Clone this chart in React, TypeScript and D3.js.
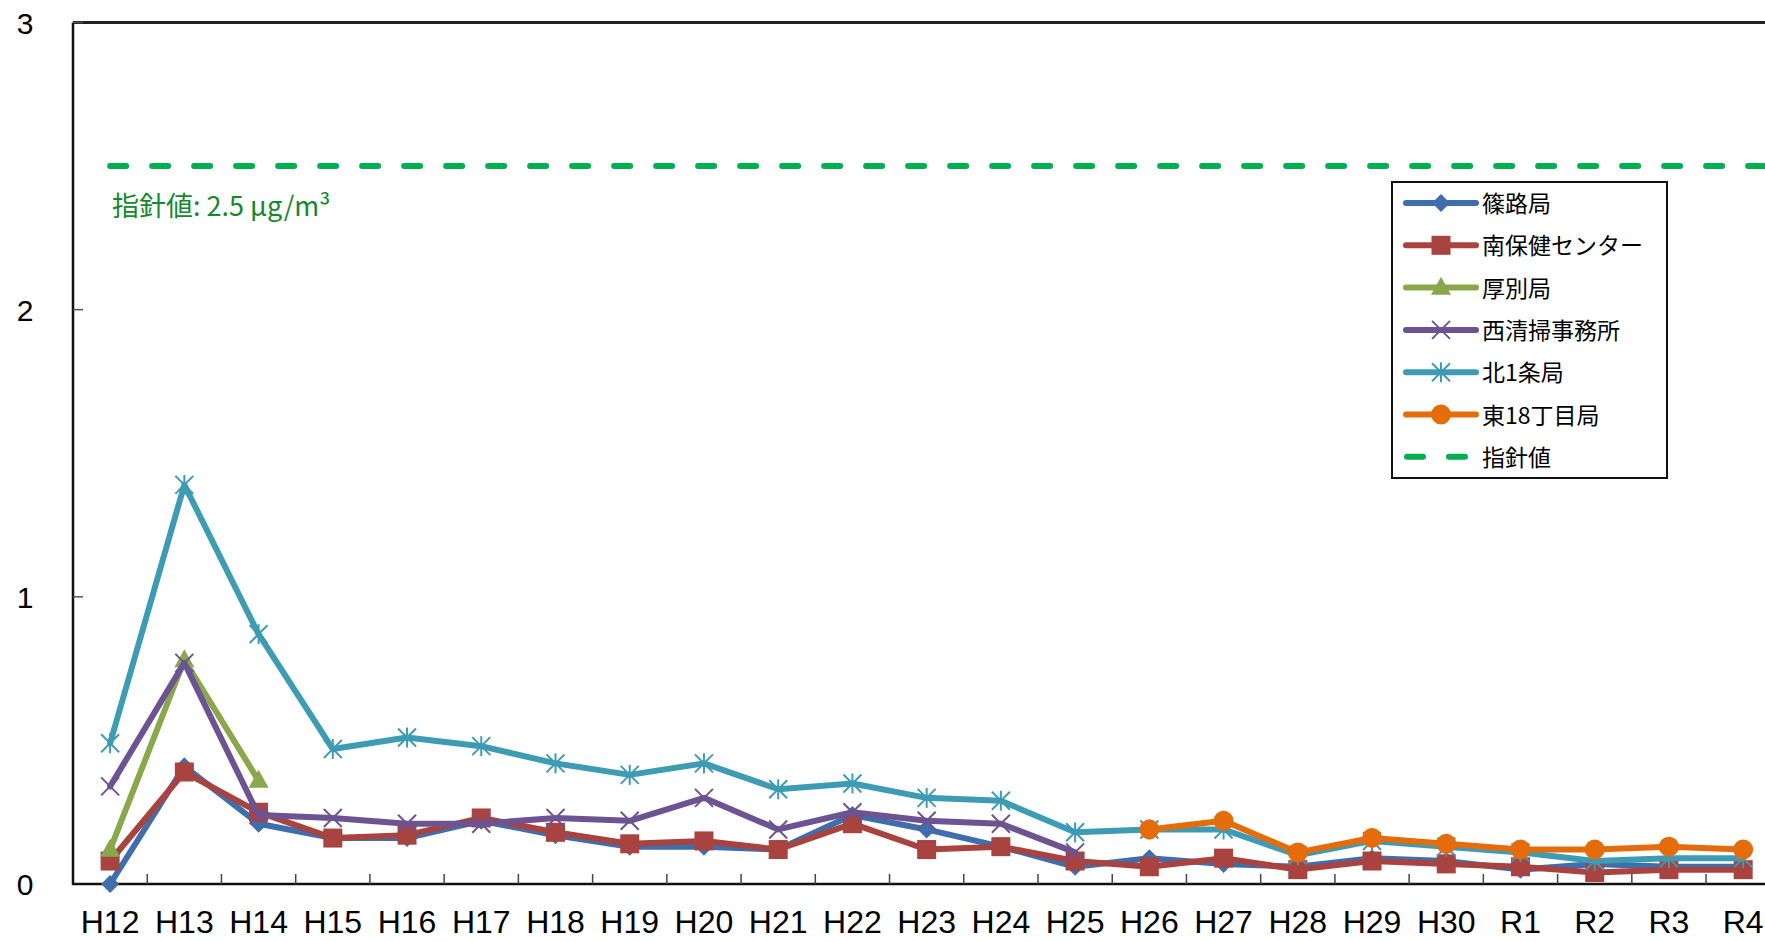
import React from "react";
import * as d3 from "d3";

const categories = ["H12","H13","H14","H15","H16","H17","H18","H19","H20","H21","H22","H23","H24","H25","H26","H27","H28","H29","H30","R1","R2","R3","R4"];

const shinoro = [0.00,0.41,0.21,0.16,0.16,0.22,0.17,0.13,0.13,0.12,0.24,0.19,0.13,0.06,0.09,0.07,0.06,0.09,0.08,0.05,0.07,0.06,0.06];
const minamiHoken = [0.08,0.39,0.25,0.16,0.17,0.23,0.18,0.14,0.15,0.12,0.21,0.12,0.13,0.08,0.06,0.09,0.05,0.08,0.07,0.06,0.04,0.05,0.05];
const atsubetsu = [0.12,0.78,0.36,null,null,null,null,null,null,null,null,null,null,null,null,null,null,null,null,null,null,null,null];
const nishiSeiso = [0.34,0.77,0.24,0.23,0.21,0.21,0.23,0.22,0.30,0.19,0.25,0.22,0.21,0.11,null,null,null,null,null,null,null,null,null];
const kita1jo = [0.49,1.39,0.87,0.47,0.51,0.48,0.42,0.38,0.42,0.33,0.35,0.30,0.29,0.18,0.19,0.19,0.10,0.15,0.13,0.11,0.08,0.09,0.09];
const higashi18 = [null,null,null,null,null,null,null,null,null,null,null,null,null,null,0.19,0.22,0.11,0.16,0.14,0.12,0.12,0.13,0.12];

const guideValue = 2.5;
const yTicks = [0, 1, 2, 3];

const seriesNames = ["篠路局","南保健センター","厚別局","西清掃事務所","北1条局","東18丁目局"];
const seriesValues = [shinoro, minamiHoken, atsubetsu, nishiSeiso, kita1jo, higashi18];
const seriesColors = ["#3F6EAD","#A8433F","#88A84B","#6D5391","#3E9BB4","#E46C0A"];
const seriesMarkers = ["diamond","square","triangle","x","asterisk","circle"];
const guideName = "指針値";
const guideColor = "#00B050";

const FONT = "'Noto Sans CJK JP', 'Noto Sans', sans-serif";
const NUMFONT = "'Liberation Sans', Arial, sans-serif";

function Marker({ type, cx, cy, color }: { type: string; cx: number; cy: number; color: string }) {
  if (type === "diamond") {
    const r = 9;
    return <path d={`M${cx},${cy - r}L${cx + r},${cy}L${cx},${cy + r}L${cx - r},${cy}Z`} fill={color} />;
  }
  if (type === "square") {
    const s = 19;
    return <rect x={cx - s / 2} y={cy - s / 2} width={s} height={s} fill={color} />;
  }
  if (type === "triangle") {
    const w = 20, h = 18;
    return <path d={`M${cx},${cy - h * 0.6}L${cx + w / 2},${cy + h * 0.4}L${cx - w / 2},${cy + h * 0.4}Z`} fill={color} />;
  }
  if (type === "circle") {
    return <circle cx={cx} cy={cy} r={10} fill={color} />;
  }
  if (type === "x") {
    const r = 9;
    return (
      <g stroke={color} strokeWidth={2}>
        <line x1={cx - r} y1={cy - r} x2={cx + r} y2={cy + r} />
        <line x1={cx - r} y1={cy + r} x2={cx + r} y2={cy - r} />
      </g>
    );
  }
  if (type === "asterisk") {
    const r = 9;
    return (
      <g stroke={color} strokeWidth={2}>
        <line x1={cx - r} y1={cy - r} x2={cx + r} y2={cy + r} />
        <line x1={cx - r} y1={cy + r} x2={cx + r} y2={cy - r} />
        <line x1={cx} y1={cy - r - 1} x2={cx} y2={cy + r + 1} />
      </g>
    );
  }
  return null;
}

export default function App() {
  const W = 1765, H = 941;
  const left = 73, top = 22.5, bottom = 884;
  const bandW = 74.23;
  const x = d3.scaleBand<string>().domain(categories).range([left, left + bandW * categories.length]).padding(0);
  const cx = (c: string) => (x(c) as number) + x.bandwidth() / 2;
  const y = d3.scaleLinear().domain([0, 3]).range([bottom, top]);

  const line = d3
    .line<number | null>()
    .defined((d) => d !== null)
    .x((_, i) => cx(categories[i]))
    .y((d) => y(d as number));

  const right = left + bandW * categories.length;
  const xFirst = cx(categories[0]);
  const xLast = cx(categories[categories.length - 1]);

  // legend
  const lgX = 1392, lgY = 182, lgW = 275, lgH = 296;
  const rowY = (i: number) => 203 + i * 42.3;

  return (
    <svg width={W} height={H} style={{ position: "absolute", left: 0, top: 0, background: "#fff" }} fontFamily={FONT}>
      <rect x={0} y={0} width={W} height={H} fill="#fff" />
      {/* plot frame */}
      <line x1={left} y1={top} x2={right} y2={top} stroke="#222" strokeWidth={3} />
      <line x1={right} y1={top} x2={right} y2={bottom} stroke="#222" strokeWidth={2} />
      <line x1={left} y1={top} x2={left} y2={bottom + 1} stroke="#111" strokeWidth={2.5} />
      <line x1={left - 1} y1={bottom} x2={right} y2={bottom} stroke="#111" strokeWidth={2.5} />
      {/* y ticks */}
      {yTicks.map((t) => (
        <g key={"yt" + t}>
          {t > 0 && <line x1={left} x2={left + 10} y1={y(t)} y2={y(t)} stroke="#555" strokeWidth={1.5} />}
          <text x={25} y={y(t) + 11} fontSize={30} fontFamily={NUMFONT} textAnchor="middle" fill="#000">{t}</text>
        </g>
      ))}
      {/* x ticks */}
      {categories.slice(1).map((c) => (
        <line key={"xt" + c} x1={x(c) as number} x2={x(c) as number} y1={bottom} y2={bottom - 10} stroke="#444" strokeWidth={1.5} />
      ))}
      {categories.map((c) => (
        <text key={"xl" + c} x={cx(c)} y={933} fontSize={32} fontFamily={NUMFONT} textAnchor="middle" fill="#000">{c}</text>
      ))}
      {/* guide line */}
      <line x1={xFirst} x2={xLast + 30} y1={y(guideValue)} y2={y(guideValue)} stroke={guideColor} strokeWidth={6} strokeDasharray="16 26" strokeLinecap="round" />
      <text x={112} y={216} fontSize={27} fill="#13892B">
        指針値: 2.5 μg/m³
      </text>
      {/* series */}
      {seriesValues.map((vals, si) => (
        <g key={"s" + si}>
          <path d={line(vals) || ""} fill="none" stroke={seriesColors[si]} strokeWidth={6} strokeLinejoin="round" strokeLinecap="round" />
          {vals.map((v, i) =>
            v === null ? null : (
              <Marker key={i} type={seriesMarkers[si]} cx={cx(categories[i])} cy={y(v)} color={seriesColors[si]} />
            )
          )}
        </g>
      ))}
      {/* legend */}
      <rect x={lgX} y={lgY} width={lgW} height={lgH} fill="#fff" stroke="#111" strokeWidth={2} />
      {seriesNames.map((n, i) => (
        <g key={"lg" + i}>
          <line x1={1406} x2={1476} y1={rowY(i)} y2={rowY(i)} stroke={seriesColors[i]} strokeWidth={6} strokeLinecap="round" />
          <Marker type={seriesMarkers[i]} cx={1441} cy={rowY(i)} color={seriesColors[i]} />
          <text x={1482} y={rowY(i) + 9} fontSize={23} fill="#000">{n}</text>
        </g>
      ))}
      <line x1={1407} x2={1467} y1={rowY(6)} y2={rowY(6)} stroke={guideColor} strokeWidth={6} strokeDasharray="16 26" strokeLinecap="round" />
      <text x={1482} y={rowY(6) + 9} fontSize={23} fill="#000">{guideName}</text>
    </svg>
  );
}
